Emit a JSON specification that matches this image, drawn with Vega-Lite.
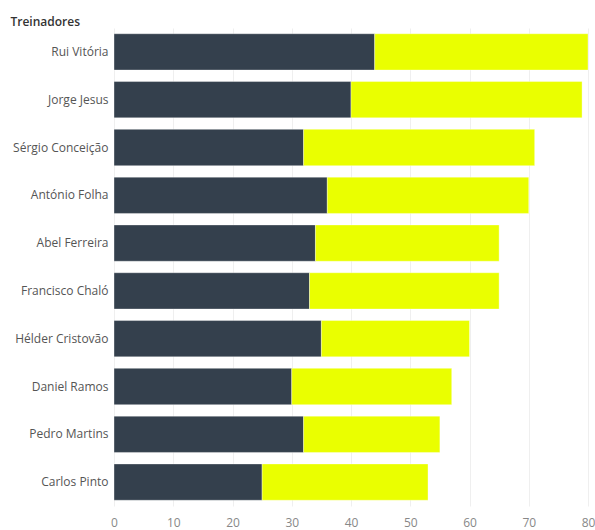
{
  "$schema": "https://vega.github.io/schema/vega-lite/v6.json",
  "autosize": "none",
  "width": 474,
  "height": 478,
  "padding": {"left": 114, "top": 28, "right": 7, "bottom": 24},
  "background": "white",
  "config": {"view": {"stroke": null}, "font": "Open Sans"},
  "data": {
    "values": [
      {"treinador": "Rui Vitória", "parte": "A", "ordem": 1, "valor": 44},
      {"treinador": "Rui Vitória", "parte": "B", "ordem": 2, "valor": 36},
      {"treinador": "Jorge Jesus", "parte": "A", "ordem": 1, "valor": 40},
      {"treinador": "Jorge Jesus", "parte": "B", "ordem": 2, "valor": 39},
      {"treinador": "Sérgio Conceição", "parte": "A", "ordem": 1, "valor": 32},
      {"treinador": "Sérgio Conceição", "parte": "B", "ordem": 2, "valor": 39},
      {"treinador": "António Folha", "parte": "A", "ordem": 1, "valor": 36},
      {"treinador": "António Folha", "parte": "B", "ordem": 2, "valor": 34},
      {"treinador": "Abel Ferreira", "parte": "A", "ordem": 1, "valor": 34},
      {"treinador": "Abel Ferreira", "parte": "B", "ordem": 2, "valor": 31},
      {"treinador": "Francisco Chaló", "parte": "A", "ordem": 1, "valor": 33},
      {"treinador": "Francisco Chaló", "parte": "B", "ordem": 2, "valor": 32},
      {"treinador": "Hélder Cristovão", "parte": "A", "ordem": 1, "valor": 35},
      {"treinador": "Hélder Cristovão", "parte": "B", "ordem": 2, "valor": 25},
      {"treinador": "Daniel Ramos", "parte": "A", "ordem": 1, "valor": 30},
      {"treinador": "Daniel Ramos", "parte": "B", "ordem": 2, "valor": 27},
      {"treinador": "Pedro Martins", "parte": "A", "ordem": 1, "valor": 32},
      {"treinador": "Pedro Martins", "parte": "B", "ordem": 2, "valor": 23},
      {"treinador": "Carlos Pinto", "parte": "A", "ordem": 1, "valor": 25},
      {"treinador": "Carlos Pinto", "parte": "B", "ordem": 2, "valor": 28}
    ]
  },
  "mark": {"type": "bar", "stroke": "#ffffff", "strokeWidth": 0.6, "strokeOpacity": 0.6},
  "encoding": {
    "y": {
      "field": "treinador",
      "type": "nominal",
      "sort": ["Rui Vitória", "Jorge Jesus", "Sérgio Conceição", "António Folha", "Abel Ferreira", "Francisco Chaló", "Hélder Cristovão", "Daniel Ramos", "Pedro Martins", "Carlos Pinto"],
      "scale": {"paddingInner": 0.24, "paddingOuter": 0.12},
      "axis": {
        "title": "Treinadores",
        "titleAngle": 0,
        "titleX": -104,
        "titleY": -7,
        "titleAlign": "left",
        "titleBaseline": "middle",
        "titleFontSize": 12,
        "titleFontWeight": 600,
        "titleColor": "#333333",
        "labelFontSize": 12,
        "labelColor": "#555555",
        "labelPadding": 6,
        "ticks": false,
        "domain": false,
        "grid": false
      }
    },
    "x": {
      "field": "valor",
      "type": "quantitative",
      "stack": "zero",
      "scale": {"domain": [0, 80], "nice": false},
      "axis": {
        "title": null,
        "values": [0, 10, 20, 30, 40, 50, 60, 70, 80],
        "labelFontSize": 12,
        "labelColor": "#888888",
        "labelPadding": 11,
        "ticks": false,
        "domain": false,
        "grid": true,
        "gridColor": "#efefef",
        "labelFlush": false
      }
    },
    "color": {
      "field": "parte",
      "type": "nominal",
      "scale": {"domain": ["A", "B"], "range": ["#34404d", "#eaff00"]},
      "legend": null
    },
    "order": {"field": "ordem", "type": "quantitative"}
  }
}
